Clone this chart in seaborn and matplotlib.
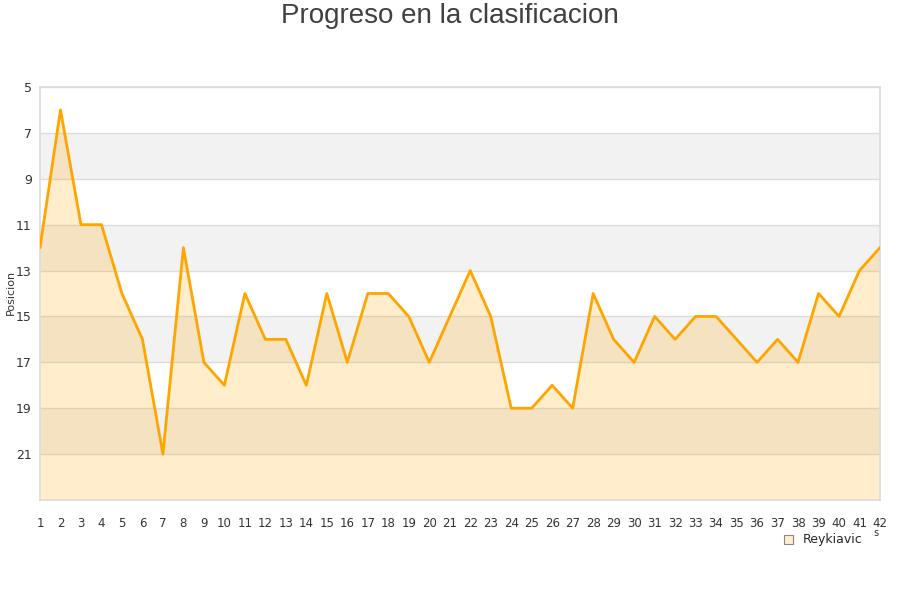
import matplotlib.pyplot as plt
import seaborn as sns
import pandas as pd
from matplotlib.patches import Patch

sns.set_theme(style="white")
plt.rcParams['font.family'] = ['DejaVu Sans']

# jornadas y posicion del equipo
jornadas = list(range(1, 43))
posicion = [12, 6, 11, 11, 14, 16, 21, 12, 17, 18, 14, 16, 16, 18, 14, 17,
            14, 14, 15, 17, 15, 13, 15, 19, 19, 18, 19, 14, 16, 17, 15, 16,
            15, 15, 16, 17, 16, 17, 14, 15, 13, 12]
equipo = "Reykiavic"
yticks = [5, 7, 9, 11, 13, 15, 17, 19, 21]

df = pd.DataFrame({"jornada": jornadas, "posicion": posicion})

fig = plt.figure(figsize=(9, 6), dpi=100)
ax = fig.add_axes([40 / 900, 1 - 500 / 600, 840 / 900, 413 / 600])

# bandas grises alternas
for y0 in [7, 11, 15, 19]:
    ax.axhspan(y0, y0 + 2, color="#f2f2f2", zorder=0, lw=0)
for y in yticks:
    ax.axhline(y, color="#dddddd", lw=1, zorder=1)

ax.fill_between(df["jornada"], df["posicion"], 23, color="orange",
                alpha=0.2, lw=0, zorder=2)
sns.lineplot(data=df, x="jornada", y="posicion", color="orange",
             linewidth=2, ax=ax, zorder=3)

ax.set_xlim(1, 42)
ax.set_ylim(23, 5)
ax.set_xticks(jornadas)
ax.set_yticks(yticks)
ax.tick_params(axis="x", labelsize=8.5, colors="#333333", pad=6)
ax.tick_params(axis="y", labelsize=9, colors="#333333", pad=6, length=0)
ax.set_xlabel("")
ax.set_ylabel("")
fig.text(0.012, 0.512, "Posicion", rotation=90, fontsize=8, color="#333333",
         ha="center", va="center")
for s in ax.spines.values():
    s.set_color("#dddddd")

fig.suptitle("Progreso en la clasificacion", fontsize=20, color="#404040",
             y=0.995, family=["Liberation Sans", "DejaVu Sans"])

handles = [Patch(facecolor="#ffedcc", edgecolor="#888888", linewidth=0.8)]
fig.legend(handles, [equipo], loc="center", bbox_to_anchor=(0.915, 0.1),
           frameon=False, fontsize=9, handlelength=0.7, handleheight=0.7)
fig.text(0.971, 0.106, "s", fontsize=7, color="#333333")

plt.savefig("out.png", dpi=100)
